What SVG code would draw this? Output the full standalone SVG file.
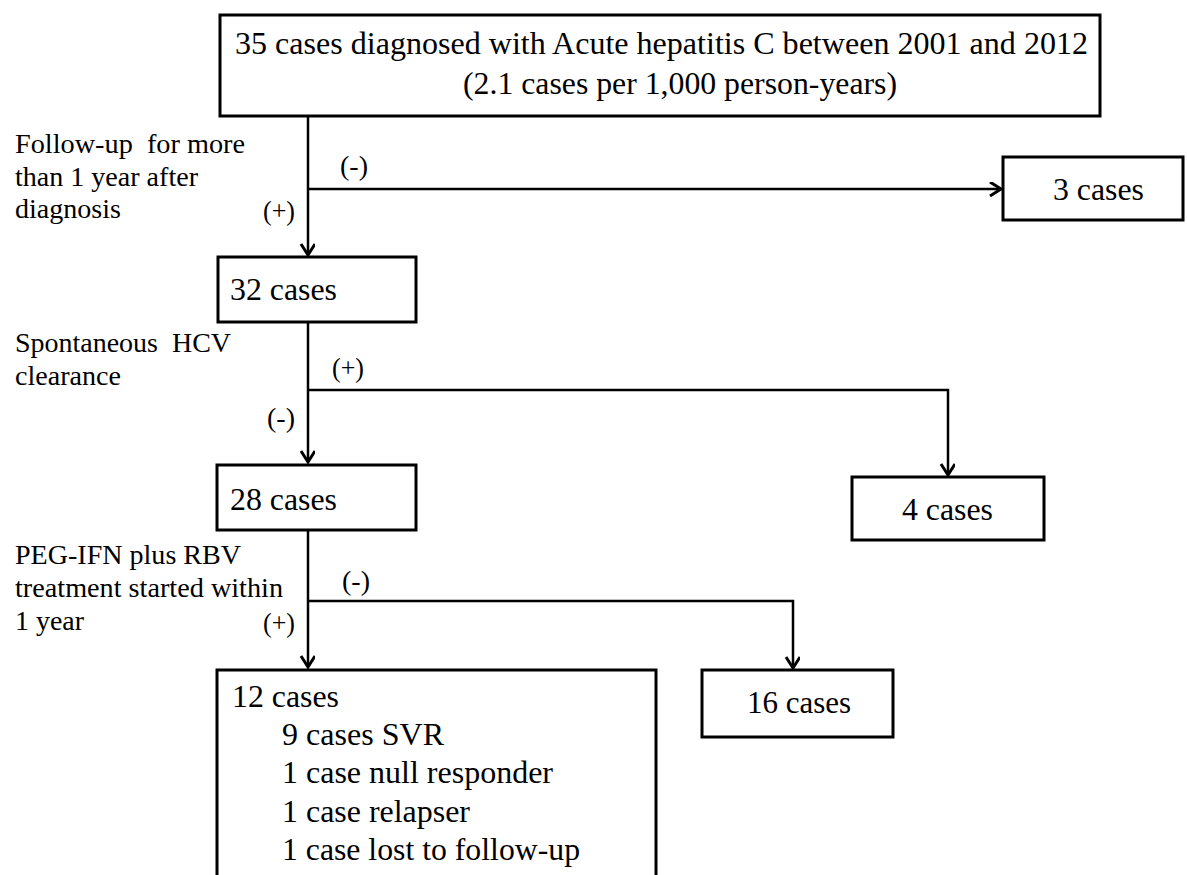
<svg xmlns="http://www.w3.org/2000/svg" width="1187" height="875" viewBox="0 0 1187 875">
<style>
.box{fill:#fff;stroke:#000;stroke-width:3}
.bt{font-size:32px;fill:#000}
.lb{font-size:28px;fill:#000;white-space:pre}
.cn{fill:none;stroke:#000;stroke-width:2.5}
</style>
<defs>
<marker id="arr" markerWidth="16" markerHeight="16" refX="12" refY="7" orient="auto" markerUnits="userSpaceOnUse">
<path d="M1,0 L12,7 L1,14" fill="none" stroke="#000" stroke-width="3"/>
</marker>
</defs>
<rect width="1187" height="875" fill="#fff"/>
<g id="connectors">
<path class="cn" d="M308,116 V255" marker-end="url(#arr)"/>
<path class="cn" d="M308,189 H1001" marker-end="url(#arr)"/>
<path class="cn" d="M308,322 V462" marker-end="url(#arr)"/>
<path class="cn" d="M308,390 H948 V475" marker-end="url(#arr)"/>
<path class="cn" d="M308,530 V667" marker-end="url(#arr)"/>
<path class="cn" d="M308,601 H793 V668" marker-end="url(#arr)"/>
</g>
<g font-family="Liberation Serif, Tinos, Times New Roman, Times, DejaVu Serif, serif">
<g id="labels">
<text class="lb" x="15" y="153" textLength="230" lengthAdjust="spacingAndGlyphs">Follow-up  for more</text>
<text class="lb" x="15" y="186" textLength="183" lengthAdjust="spacingAndGlyphs">than 1 year after</text>
<text class="lb" x="15" y="218" textLength="106" lengthAdjust="spacingAndGlyphs">diagnosis</text>
<text class="lb" x="340" y="175" textLength="28" lengthAdjust="spacingAndGlyphs">(-)</text>
<text class="lb" x="263" y="220" textLength="32" lengthAdjust="spacingAndGlyphs">(+)</text>
<text class="lb" x="15" y="352" textLength="216" lengthAdjust="spacingAndGlyphs">Spontaneous  HCV</text>
<text class="lb" x="15" y="385" textLength="106" lengthAdjust="spacingAndGlyphs">clearance</text>
<text class="lb" x="332" y="377" textLength="32" lengthAdjust="spacingAndGlyphs">(+)</text>
<text class="lb" x="267" y="427" textLength="28" lengthAdjust="spacingAndGlyphs">(-)</text>
<text class="lb" x="15" y="564" textLength="226" lengthAdjust="spacingAndGlyphs">PEG-IFN plus RBV</text>
<text class="lb" x="15" y="597" textLength="268" lengthAdjust="spacingAndGlyphs">treatment started within</text>
<text class="lb" x="15" y="630" textLength="69" lengthAdjust="spacingAndGlyphs">1 year</text>
<text class="lb" x="342" y="590" textLength="28" lengthAdjust="spacingAndGlyphs">(-)</text>
<text class="lb" x="263" y="632" textLength="32" lengthAdjust="spacingAndGlyphs">(+)</text>
</g>
<g id="n-top">
<rect class="box" x="220" y="15" width="880" height="101"/>
<text class="bt" x="235" y="54" textLength="853" lengthAdjust="spacingAndGlyphs">35 cases diagnosed with Acute hepatitis C between 2001 and 2012</text>
<text class="bt" x="463" y="94" textLength="434" lengthAdjust="spacingAndGlyphs">(2.1 cases per 1,000 person-years)</text>
</g>
<g id="n-3">
<rect class="box" x="1003" y="157" width="180" height="63"/>
<text class="bt" x="1053" y="200" textLength="91" lengthAdjust="spacingAndGlyphs">3 cases</text>
</g>
<g id="n-32">
<rect class="box" x="218" y="257" width="198" height="65"/>
<text class="bt" x="230" y="300" textLength="107" lengthAdjust="spacingAndGlyphs">32 cases</text>
</g>
<g id="n-4">
<rect class="box" x="852" y="477" width="192" height="63"/>
<text class="bt" x="902" y="520" textLength="91" lengthAdjust="spacingAndGlyphs">4 cases</text>
</g>
<g id="n-28">
<rect class="box" x="217" y="465" width="199" height="65"/>
<text class="bt" x="230" y="510" textLength="107" lengthAdjust="spacingAndGlyphs">28 cases</text>
</g>
<g id="n-16">
<rect class="box" x="702" y="670" width="191" height="67"/>
<text class="bt" x="747" y="713" textLength="104" lengthAdjust="spacingAndGlyphs">16 cases</text>
</g>
<g id="n-12">
<rect class="box" x="217" y="670" width="439" height="230"/>
<text class="bt" x="232" y="707" textLength="107" lengthAdjust="spacingAndGlyphs">12 cases</text>
<text class="bt" x="282" y="745" textLength="162" lengthAdjust="spacingAndGlyphs">9 cases SVR</text>
<text class="bt" x="282" y="783" textLength="271" lengthAdjust="spacingAndGlyphs">1 case null responder</text>
<text class="bt" x="282" y="822" textLength="188" lengthAdjust="spacingAndGlyphs">1 case relapser</text>
<text class="bt" x="282" y="860" textLength="298" lengthAdjust="spacingAndGlyphs">1 case lost to follow-up</text>
</g>
</g>
</svg>
